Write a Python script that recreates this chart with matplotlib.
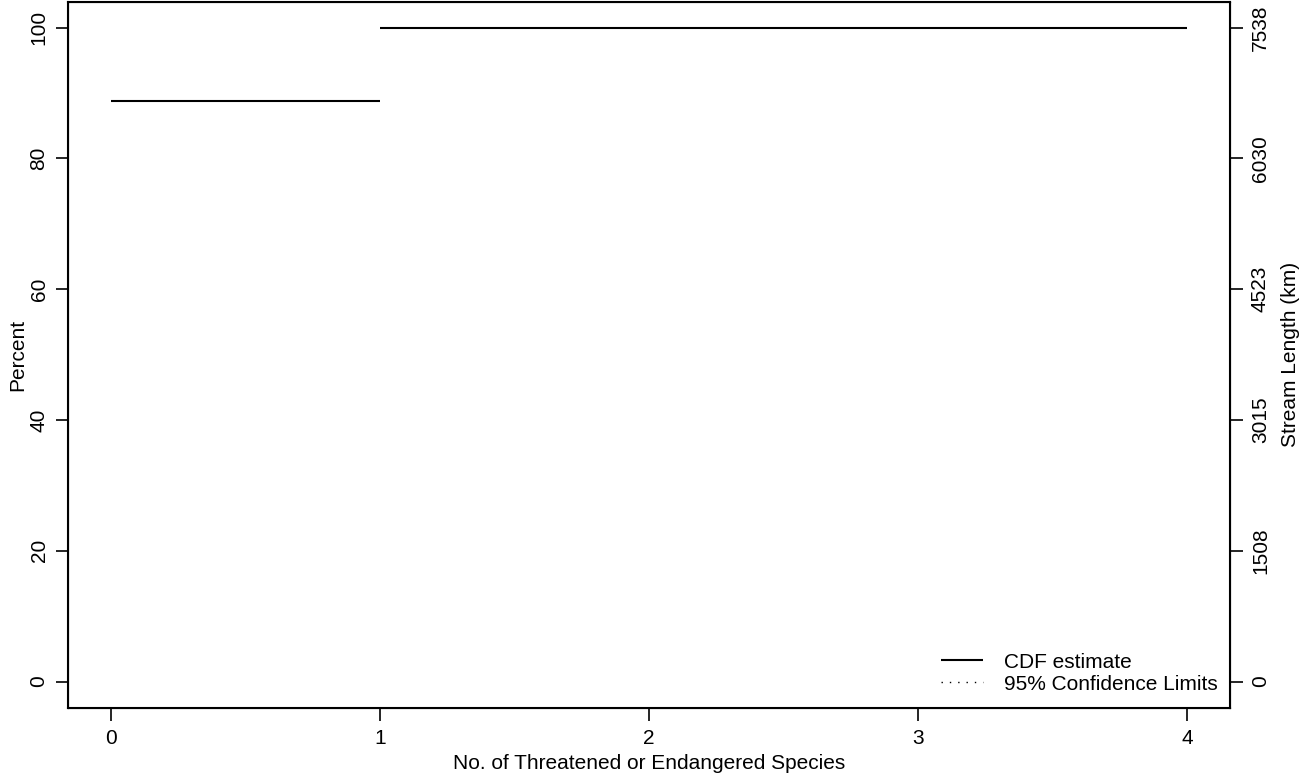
import numpy as np
import matplotlib.pyplot as plt

plt.rcParams['font.family'] = ['Liberation Sans', 'DejaVu Sans']

# CDF estimate (percent) at each value of the response
species = [0, 1, 4]
cdf_pct = [88.8, 100, 100]
total_length = 7538  # km
pct_ticks = [0, 20, 40, 60, 80, 100]

fs = 15

fig = plt.figure(figsize=(13.16, 7.78), dpi=100)
ax = fig.add_axes([0.0517, 0.0904, 0.8830, 0.9076])

# horizontal step segments only, like R's cdf plot
for i in range(len(species) - 1):
    ax.plot([species[i], species[i + 1]], [cdf_pct[i], cdf_pct[i]],
            color='black', lw=1.5, solid_capstyle='butt',
            label='CDF estimate' if i == 0 else None)
ax.plot([], [], color='black', lw=1.0, ls=(0, (1, 5)), label='95% Confidence Limits')

ax.set_xlim(-0.16, 4.16)
ax.set_ylim(-4, 104)
ax.set_xticks([0, 1, 2, 3, 4])
ax.set_yticks(pct_ticks)
ax.set_yticklabels([str(p) for p in pct_ticks], rotation=90, va='center')
ax.set_xlabel('No. of Threatened or Endangered Species', fontsize=fs, labelpad=5)
ax.set_ylabel('Percent', fontsize=fs, labelpad=2)
ax.tick_params(labelsize=fs, length=9, width=1.2, pad=5, direction='out')
ax.tick_params(axis='x', pad=6)
for s in ax.spines.values():
    s.set_linewidth(1.5)

ax2 = ax.twinx()
ax2.set_ylim(ax.get_ylim())
ax2.set_yticks(pct_ticks)
ax2.set_yticklabels([str(int(round(total_length * p / 100))) for p in pct_ticks],
                    rotation=90, va='center')
ax2.tick_params(labelsize=fs, length=9, width=1.2, pad=6, direction='out')
ax2.set_ylabel('Stream Length (km)', fontsize=fs, labelpad=8)

leg = ax.legend(loc='lower right', frameon=False, fontsize=fs,
                handlelength=2.0, handletextpad=1.0, labelspacing=0.15,
                borderaxespad=0.2, bbox_to_anchor=(1.0, 0.002))

fig.savefig('out.png', dpi=100)
